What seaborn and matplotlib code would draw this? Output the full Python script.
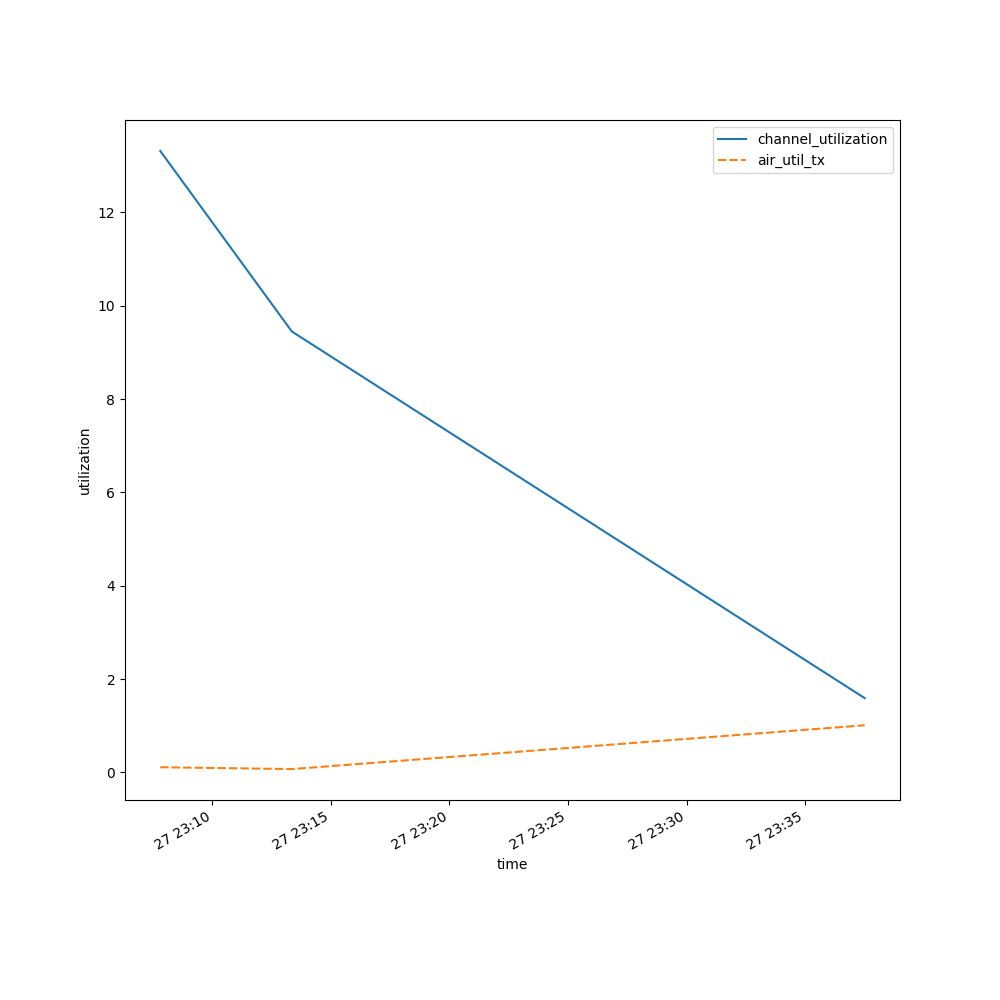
import matplotlib
matplotlib.use("Agg")
import matplotlib.pyplot as plt
import seaborn as sns
import pandas as pd

times = ["2024-01-27 23:07:48", "2024-01-27 23:13:21", "2024-01-27 23:37:31"]
channel_utilization = [13.32, 9.45, 1.59]
air_util_tx = [0.11, 0.07, 1.01]

df = pd.DataFrame(
    {"channel_utilization": channel_utilization, "air_util_tx": air_util_tx},
    index=pd.DatetimeIndex(pd.to_datetime(times), name="time"),
)

fig, ax = plt.subplots(figsize=(10, 10), dpi=100)
sns.lineplot(data=df, ax=ax)
ax.set_ylabel("utilization")
ax.set_xlabel("time")
fig.autofmt_xdate()
fig.savefig("out.png", dpi=100)
